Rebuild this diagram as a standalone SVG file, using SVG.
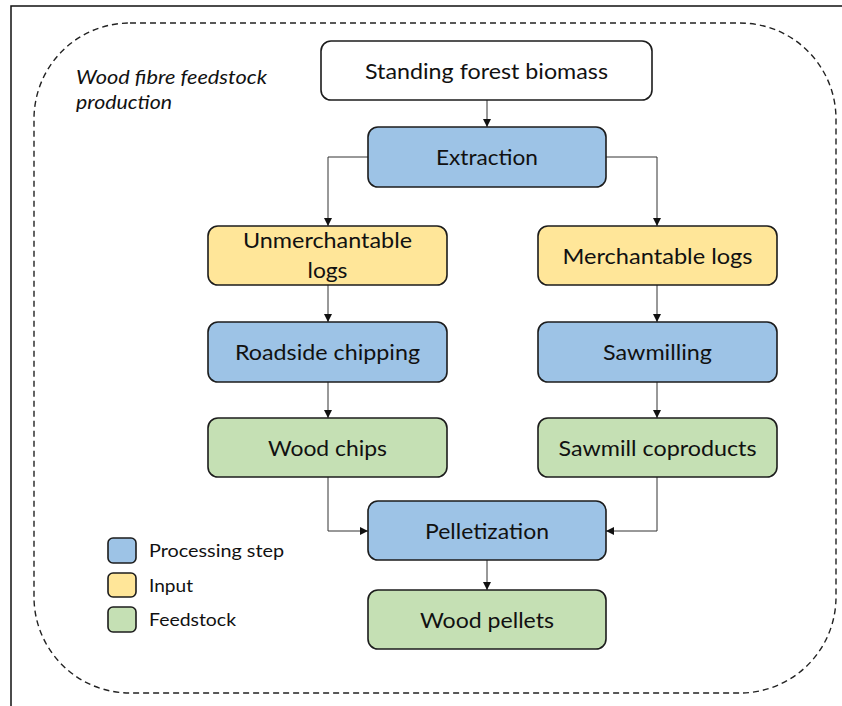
<svg xmlns="http://www.w3.org/2000/svg" width="842" height="706" viewBox="0 0 842 706">
  <style>
    .box { stroke: #1c1c1c; stroke-width: 1.6; }
    .plain { fill: #ffffff; }
    .proc { fill: #9dc3e6; }
    .input { fill: #ffe699; }
    .feed { fill: #c5e0b4; }
    .lbl { font-family: Lato, "Liberation Sans", sans-serif; font-size: 22px; fill: #111111; text-anchor: middle; }
    .leg { font-family: Lato, "Liberation Sans", sans-serif; font-size: 18px; fill: #111111; }
    .title { font-family: Lato, "Liberation Sans", sans-serif; font-size: 19px; font-style: italic; fill: #111111; }
    .conn { fill: none; stroke: #333333; stroke-width: 1; marker-end: url(#arrow); }
  </style>
  <defs>
    <marker id="arrow" viewBox="0 0 8 8" refX="8" refY="4" markerWidth="8" markerHeight="8" markerUnits="userSpaceOnUse" orient="auto">
      <path d="M0,0 L8,4 L0,8 Z" fill="#111111"/>
    </marker>
  </defs>

  <rect width="842" height="706" fill="#ffffff"/>

  <!-- outer frame (top and left edges) -->
  <path d="M11,706 V6 H842" fill="none" stroke="#111111" stroke-width="1.5"/>

  <!-- dashed process boundary -->
  <g id="boundary">
    <rect x="34" y="23" width="802" height="670" rx="96" ry="96" fill="none" stroke="#222222" stroke-width="1.4" stroke-dasharray="6 4"/>
    <text class="title" x="76" y="84" textLength="191" lengthAdjust="spacingAndGlyphs">Wood fibre feedstock</text>
    <text class="title" x="76" y="109" textLength="96" lengthAdjust="spacingAndGlyphs">production</text>
  </g>

  <!-- connectors -->
  <g id="connectors">
    <path class="conn" d="M487,100 V127"/>
    <path class="conn" d="M368,157 H328 V226"/>
    <path class="conn" d="M606,157 H657 V226"/>
    <path class="conn" d="M328,285 V322"/>
    <path class="conn" d="M657,285 V322"/>
    <path class="conn" d="M328,382 V418"/>
    <path class="conn" d="M657,382 V418"/>
    <path class="conn" d="M328,477 V531 H368"/>
    <path class="conn" d="M657,477 V531 H606"/>
    <path class="conn" d="M487,560 V590"/>
  </g>

  <g id="standing-forest-biomass">
    <rect class="box plain" x="321" y="41" width="331" height="59" rx="10"/>
    <text class="lbl" x="486.5" y="79" textLength="243" lengthAdjust="spacingAndGlyphs">Standing forest biomass</text>
  </g>

  <g id="extraction">
    <rect class="box proc" x="368" y="127" width="238" height="60" rx="10"/>
    <text class="lbl" x="487" y="165" textLength="102" lengthAdjust="spacingAndGlyphs">Extraction</text>
  </g>

  <g id="unmerchantable-logs">
    <rect class="box input" x="208" y="226" width="239" height="59" rx="10"/>
    <text class="lbl" x="327.5" y="248" textLength="169" lengthAdjust="spacingAndGlyphs">Unmerchantable</text>
    <text class="lbl" x="327.5" y="278" textLength="40" lengthAdjust="spacingAndGlyphs">logs</text>
  </g>

  <g id="merchantable-logs">
    <rect class="box input" x="538" y="226" width="239" height="59" rx="10"/>
    <text class="lbl" x="657.5" y="264" textLength="190" lengthAdjust="spacingAndGlyphs">Merchantable logs</text>
  </g>

  <g id="roadside-chipping">
    <rect class="box proc" x="208" y="322" width="239" height="60" rx="10"/>
    <text class="lbl" x="327.5" y="360" textLength="185" lengthAdjust="spacingAndGlyphs">Roadside chipping</text>
  </g>

  <g id="sawmilling">
    <rect class="box proc" x="538" y="322" width="239" height="60" rx="10"/>
    <text class="lbl" x="657.5" y="360" textLength="109" lengthAdjust="spacingAndGlyphs">Sawmilling</text>
  </g>

  <g id="wood-chips">
    <rect class="box feed" x="208" y="418" width="239" height="59" rx="10"/>
    <text class="lbl" x="327.5" y="456" textLength="119" lengthAdjust="spacingAndGlyphs">Wood chips</text>
  </g>

  <g id="sawmill-coproducts">
    <rect class="box feed" x="538" y="418" width="239" height="59" rx="10"/>
    <text class="lbl" x="657.5" y="456" textLength="198" lengthAdjust="spacingAndGlyphs">Sawmill coproducts</text>
  </g>

  <g id="pelletization">
    <rect class="box proc" x="368" y="501" width="238" height="59" rx="10"/>
    <text class="lbl" x="487" y="539" textLength="124" lengthAdjust="spacingAndGlyphs">Pelletization</text>
  </g>

  <g id="wood-pellets">
    <rect class="box feed" x="368" y="590" width="238" height="59" rx="10"/>
    <text class="lbl" x="487" y="628" textLength="134" lengthAdjust="spacingAndGlyphs">Wood pellets</text>
  </g>

  <!-- legend -->
  <g id="legend">
    <rect class="box proc" x="108" y="538" width="28" height="25" rx="5"/>
    <text class="leg" x="149" y="557" textLength="135" lengthAdjust="spacingAndGlyphs">Processing step</text>
    <rect class="box input" x="108" y="573" width="28" height="24" rx="5"/>
    <text class="leg" x="149" y="592" textLength="44" lengthAdjust="spacingAndGlyphs">Input</text>
    <rect class="box feed" x="108" y="607" width="28" height="25" rx="5"/>
    <text class="leg" x="149" y="626" textLength="87" lengthAdjust="spacingAndGlyphs">Feedstock</text>
  </g>
</svg>
